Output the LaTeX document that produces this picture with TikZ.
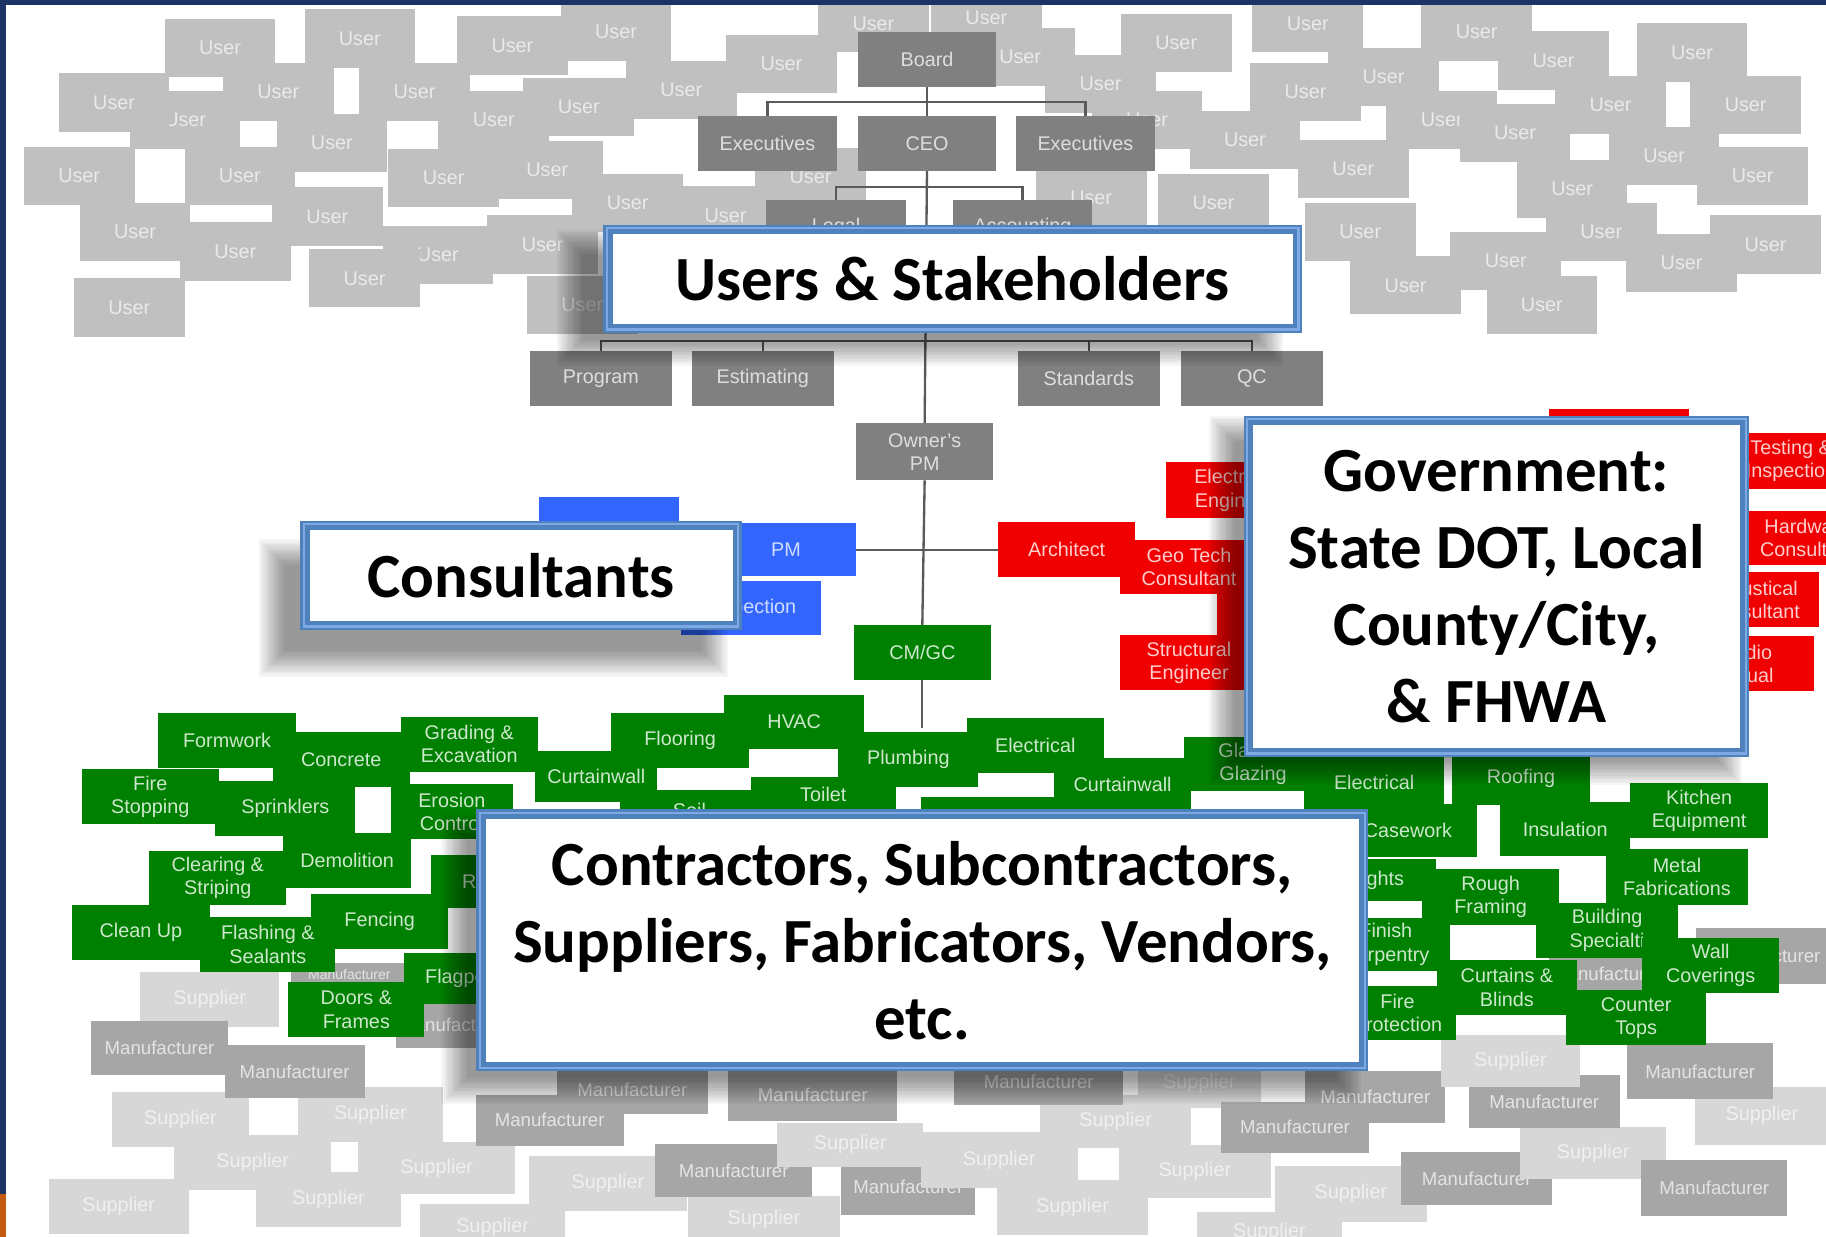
\documentclass[tikz,border=0pt]{standalone}
\usepackage{fontspec}
\setmainfont{Liberation Sans}
\newfontfamily\calfont{Carlito}
\usetikzlibrary{calc}
\definecolor{usergray}{RGB}{192,192,192}
\definecolor{usertext}{RGB}{234,234,234}
\definecolor{orggray}{RGB}{128,128,128}
\definecolor{orgtext}{RGB}{222,222,222}
\definecolor{grn}{RGB}{0,128,0}
\definecolor{grntext}{RGB}{205,232,205}
\definecolor{rd}{RGB}{240,0,0}
\definecolor{rdtext}{RGB}{255,205,205}
\definecolor{bl}{RGB}{51,102,255}
\definecolor{bltext}{RGB}{205,220,255}
\definecolor{mfg}{RGB}{166,166,166}
\definecolor{mfgtext}{RGB}{228,228,228}
\definecolor{sup}{RGB}{215,215,215}
\definecolor{suptext}{RGB}{240,240,240}
\definecolor{framecol}{RGB}{79,129,189}
\definecolor{framelt}{RGB}{125,170,228}
\definecolor{navy}{RGB}{28,52,100}
\definecolor{orng}{RGB}{197,90,17}
\definecolor{linecol}{RGB}{90,90,90}
\newcommand{\lbl}{\fontsize{17}{20}\selectfont}
\newcommand{\lblsm}{\fontsize{16}{18}\selectfont}
\newcommand{\lbltiny}{\fontsize{12}{14}\selectfont}
\newcommand{\titlefont}{\calfont\bfseries\fontsize{54}{66}\selectfont}
\newcommand{\bx}[6]{\node[#1, minimum width=#4, minimum height=#5] (#2) at (#3) {#6};}
\newcommand{\softshadow}[6]{%
  \foreach \k in {0,...,11}{\fill[black,opacity=0.04] ({#1+#5-12+2*\k},{#2+#6-12+2*\k}) rectangle ({#3+#5+12-2*\k},{#4+#6+12-2*\k});}}
\pgfdeclarelayer{users}
\pgfdeclarelayer{lines}
\pgfsetlayers{users,lines,main}
\tikzset{
  bxbase/.style={inner sep=0pt, outer sep=0pt, align=center, font=\lbl},
  ub/.style={bxbase, fill=usergray, text=usertext, minimum width=95, minimum height=50},
  ob/.style={bxbase, fill=orggray, text=orgtext},
  gb/.style={bxbase, fill=grn, text=grntext},
  rb/.style={bxbase, fill=rd, text=rdtext},
  bb/.style={bxbase, fill=bl, text=bltext},
  mb/.style={bxbase, fill=mfg, text=mfgtext, font=\lblsm},
  sb/.style={bxbase, fill=sup, text=suptext},
  conn/.style={draw=linecol, line width=2pt},
  frame/.style={draw=framecol, line width=8pt, fill=white, inner sep=0pt, align=center, font=\titlefont, text=black},
  bevel/.style={draw=framelt, line width=2pt}
}
\begin{document}
\begin{tikzpicture}[x=1pt,y=-1pt]
\useasboundingbox (0,0) rectangle (1568,1062);
\begin{pgfonlayer}{users}
\fill[white] (0,0) rectangle (1568,1062);
\foreach \p [count=\i] in {{159,103},{98,88},{189,41},{309,33},{440,39},{529,27},{750,20},{847,15},{671,55},{876,49},{1010,37},{1123,20},{1268,27},{1334,52},{1453,45},{239,79},{356,79},{424,103},{497,92},{585,77},{945,72},{985,103},{1188,66},{1121,79},{1383,90},{1499,90},{68,151},{206,151},{285,123},{381,153},{470,146},{1069,120},{1238,103},{1301,114},{1162,145},{1429,134},{1505,151},{696,152},{937,170},{116,199},{281,186},{539,174},{202,216},{376,219},{466,210},{623,185},{1042,174},{1350,162},{1168,199},{1375,199},{1516,210},{1293,224},{1444,226},{1207,245},{1324,262},{111,264},{313,239},{500,262}}
  {\node[ub] (u\i) at (\p) {User};}
\end{pgfonlayer}

% bottom manufacturers and suppliers
\bx{sb}{s1}{102,1036}{120}{48}{Supplier}
\bx{sb}{s2}{282,1030}{125}{47}{Supplier}
\bx{sb}{s3}{423,1054}{125}{40}{Supplier}
\bx{sb}{s4}{217,998}{135}{47}{Supplier}
\bx{sb}{s5}{375,1003}{135}{45}{Supplier}
\bx{sb}{s6}{155,961}{118}{47}{Supplier}
\bx{sb}{s7}{318,957}{125}{47}{Supplier}
\bx{mb}{m1}{472,962}{127}{44}{Manufacturer}
\bx{mb}{m2}{543,936}{130}{42}{Manufacturer}
\bx{sb}{s8}{656,1047}{130}{40}{Supplier}
\bx{sb}{s9}{522,1016}{135}{47}{Supplier}
\bx{mb}{m3}{630,1005}{135}{45}{Manufacturer}
\bx{mb}{m4}{780,1019}{115}{48}{Manufacturer}
\bx{sb}{s10}{730,983}{125}{38}{Supplier}
\bx{mb}{m5}{698,940}{145}{45}{Manufacturer}
\bx{sb}{s11}{921,1037}{130}{47}{Supplier}
\bx{sb}{s12}{858,996}{135}{48}{Supplier}
\bx{sb}{s13}{958,963}{130}{46}{Supplier}
\bx{sb}{s14}{1026,1006}{130}{45}{Supplier}
\bx{mb}{m6}{892,929}{145}{40}{Manufacturer}
\bx{sb}{s15}{1030,930}{105}{43}{Supplier}
\bx{sb}{s16}{1090,1058}{125}{35}{Supplier}
\bx{sb}{s17}{1160,1025}{130}{48}{Supplier}
\bx{mb}{m7}{1112,968}{127}{44}{Manufacturer}
\bx{mb}{m8}{1181,942}{120}{45}{Manufacturer}
\bx{mb}{m9}{1268,1012}{130}{45}{Manufacturer}
\bx{sb}{s18}{1368,990}{125}{45}{Supplier}
\bx{mb}{m10}{1326,946}{130}{45}{Manufacturer}
\bx{sb}{s19}{1297,911}{120}{45}{Supplier}
\bx{sb}{s20}{1513,958}{115}{50}{Supplier}
\bx{mb}{m11}{1472,1020}{125}{48}{Manufacturer}
\bx{mb}{m12}{1460,920}{125}{48}{Manufacturer}
\bx{mb}{m13}{1516,821}{120}{48}{Manufacturer}
\bx{mb}{m14}{1380,836}{100}{32}{Manufacturer}
\bx{sb}{s21}{180,858}{120}{47}{Supplier}
\bx{mb}{m15}{137,900}{118}{47}{Manufacturer}
\bx{mb}{m16}{253,920}{120}{46}{Manufacturer}
\node[mb, font=\lbltiny, minimum width=100, minimum height=20] (m17) at (300,837) {Manufacturer};
\bx{mb}{m18}{390,880}{100}{40}{Manufacturer}

% green contractors
\bx{gb}{g1}{195,636}{118}{47}{Formwork}
\bx{gb}{g2}{293,652}{118}{47}{Concrete}
\bx{gb}{g3}{403,639}{118}{47}{Grading \&\\Excavation}
\bx{gb}{g4}{129,684}{118}{47}{Fire\\Stopping}
\bx{gb}{g5}{245,694}{120}{47}{Sprinklers}
\bx{gb}{g6}{388,697}{105}{47}{Erosion\\Control}
\bx{gb}{g10}{592,696}{120}{36}{Soil}
\bx{gb}{g7}{512,667}{105}{44}{Curtainwall}
\bx{gb}{g8}{584,636}{118}{47}{Flooring}
\bx{gb}{g9}{682,620}{120}{47}{HVAC}
\bx{gb}{g11}{707,682}{125}{30}{Toilet}
\bx{gb}{g12}{780,652}{120}{47}{Plumbing}
\bx{gb}{g13}{889,640}{118}{47}{Electrical}
\bx{gb}{g14}{848,694}{115}{20}{}
\bx{gb}{g15}{964,674}{118}{47}{Curtainwall}
\bx{gb}{g16}{1076,656}{118}{47}{Glass \&\\Glazing}
\bx{gb}{g17}{1180,672}{120}{47}{Electrical}
\bx{gb}{g18}{1306,668}{118}{47}{Roofing}
\bx{gb}{g19}{1209,713}{118}{46}{Casework}
\bx{gb}{g20}{1344,712}{112}{46}{Insulation}
\bx{gb}{g21}{1459,696}{118}{47}{Kitchen\\Equipment}
\bx{gb}{g22}{1440,753}{122}{48}{Metal\\Fabrications}
\bx{gb}{g23}{1183,756}{100}{36}{Lights}
\bx{gb}{g24}{1280,770}{118}{48}{Rough\\Framing}
\bx{gb}{g25}{1380,799}{122}{47}{Building\\Specialti}
\bx{gb}{g26}{1190,811}{110}{46}{Finish\\Carpentry}
\bx{gb}{g27}{1469,829}{118}{47}{Wall\\Coverings}
\bx{gb}{g28}{1294,848}{120}{48}{Curtains \&\\Blinds}
\bx{gb}{g29}{1200,870}{100}{46}{Fire\\Protection}
\bx{gb}{g30}{1405,874}{120}{47}{Counter\\Tops}
\bx{gb}{g31}{187,754}{118}{47}{Clearing \&\\Striping}
\bx{gb}{g32}{298,739}{110}{47}{Demolition}
\bx{gb}{g33}{420,757}{100}{46}{Rebar}
\bx{gb}{g34}{121,801}{118}{47}{Clean Up}
\bx{gb}{g35}{326,791}{118}{47}{Fencing}
\bx{gb}{g36}{230,811}{116}{47}{Flashing \&\\Sealants}
\bx{gb}{g37}{402,840}{110}{44}{Flagpoles}
\bx{gb}{g38}{306,867}{117}{47}{Doors \&\\Frames}

% red consultants
\bx{rb}{r1}{1390,368}{120}{34}{}
\bx{rb}{r2}{1060,421}{118}{48}{Electrical\\Engineer}
\bx{rb}{r3}{916,472}{118}{47}{Architect}
\bx{rb}{r4}{1021,487}{118}{46}{Geo Tech\\Consultant}
\bx{rb}{r5}{1075,528}{60}{36}{}
\bx{rb}{r6}{1021,569}{118}{47}{Structural\\Engineer}
\bx{rb}{r7}{1538,396}{120}{48}{Testing \&\\Inspection}
\bx{rb}{r8}{1552,462}{120}{47}{Hardware\\Consultant}
\bx{rb}{r9}{1505,515}{114}{47}{Acoustical\\Consultant}
\bx{rb}{r10}{1500,570}{115}{47}{Audio\\Visual}

% blue consultants
\bx{bb}{b1}{523,450}{120}{46}{}
\bx{bb}{b2}{675,472}{120}{46}{PM}
\bx{bb}{b3}{645,522}{120}{46}{Inspection}

% owner organisation
\bx{ob}{board}{796,51}{119}{47}{Board}
\bx{ob}{exl}{659,123}{119}{47}{Executives}
\bx{ob}{ceo}{796,123}{119}{47}{CEO}
\bx{ob}{exr}{932,123}{119}{47}{Executives}
\bx{ob}{legal}{718,195}{120}{47}{Legal}
\bx{ob}{acct}{878,195}{120}{47}{Accounting}
\bx{ob}{prog}{516,325}{122}{48}{Program}
\bx{ob}{est}{655,325}{122}{48}{Estimating}
\bx{ob}{std}{935,325}{122}{48}{Standards}
\bx{ob}{qc}{1075,325}{122}{48}{QC}
\bx{ob}{opm}{794,388}{118}{49}{Owner's\\PM}
\bx{gb}{cmgc}{792,560}{118}{47}{CM/GC}
\coordinate (trunkend) at (792,625);

\begin{pgfonlayer}{lines}
\draw[conn] (board.south) -- (ceo.north);
\draw[conn] (exl.north) -- ++(0,-12) -| (exr.north);
\draw[conn] (ceo.south) -- (opm.north);
\draw[conn] (legal.north) -- ++(0,-11) -| (acct.north);
\draw[conn] (prog.north) -- ++(0,-8) -| (qc.north);
\draw[conn] (est.north) -- ++(0,-8);
\draw[conn] (std.north) -- ++(0,-8);
\draw[conn] (opm.south) -- (cmgc.north);
\draw[conn] (cmgc.south) -- (trunkend);
\draw[conn] (b2.east) -- (r3.west);
\end{pgfonlayer}

% page edges
\fill[navy] (0,0) rectangle (1568,4);
\fill[navy] (0,0) rectangle (5,1025);
\fill[orng] (0,1025) rectangle (5,1062);

% overlay shadows
\softshadow{518}{193}{1118}{286}{-28}{16}
\softshadow{258}{447}{637}{541}{-24}{28}
\softshadow{1068}{357}{1502}{650}{-18}{12}
\softshadow{409}{695}{1175}{920}{-18}{16}

% overlay boxes
\node[frame, minimum width=592, minimum height=85] (stake) at (818,239.5) {Users \& Stakeholders};
\node[frame, minimum width=371, minimum height=86] (cons) at (447.5,494) {Consultants};
\node[frame, minimum width=426, minimum height=285] (gov) at (1285,503.5) {Government:\\State DOT, Local\\County/City,\\\& FHWA};
\node[frame, minimum width=758, minimum height=217] (contr) at (792,807.5) {Contractors, Subcontractors,\\Suppliers, Fabricators, Vendors,\\etc.};
\foreach \n in {stake,cons,gov,contr}{
  \draw[bevel] ($(\n.north west)+(3,3)$) rectangle ($(\n.south east)+(-3,-3)$);}
\end{tikzpicture}
\end{document}
